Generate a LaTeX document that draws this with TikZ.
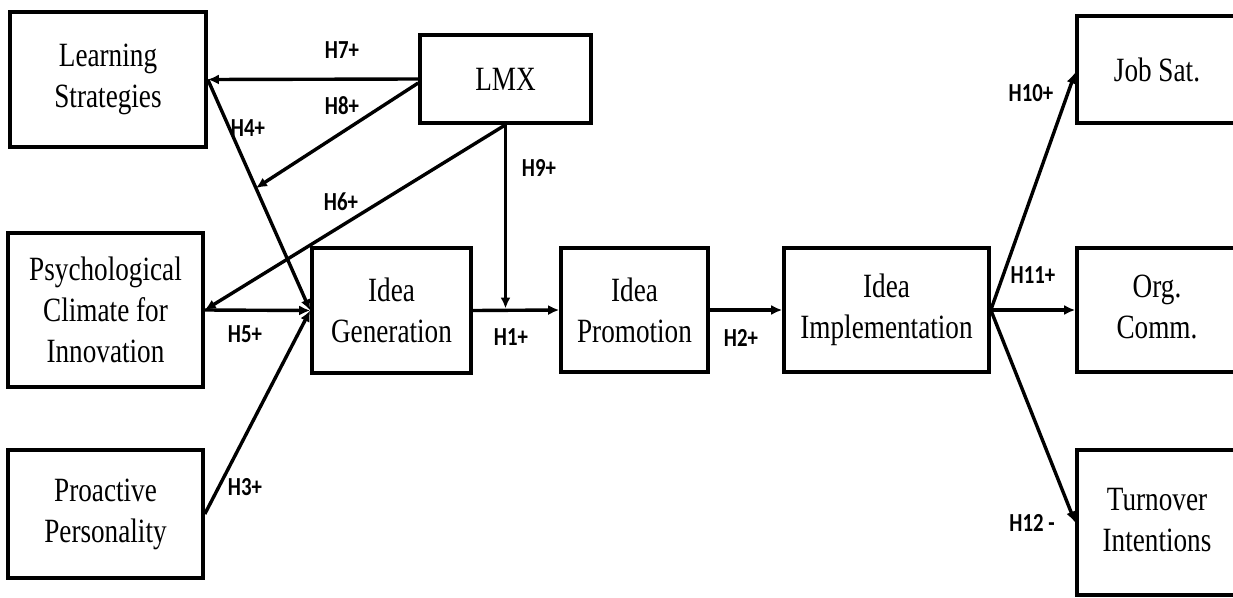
\documentclass[tikz,border=0pt]{standalone}
\usepackage{fontspec}
\setmainfont{Liberation Serif}[FakeStretch=0.8]
\newfontfamily\lblfont{Carlito}[FakeStretch=0.8]
\usetikzlibrary{arrows.meta,calc}

\tikzset{
  construct/.style={draw, line width=3.6pt, align=center, inner sep=0pt,
    font=\fontsize{34}{41}\selectfont},
  link/.style={line width=3.4pt, -{Latex[length=11pt,width=10pt]}},
  hyp/.style={inner sep=0pt, font=\lblfont\bfseries\fontsize{26}{30}\selectfont}
}

\begin{document}
\begin{tikzpicture}[x=1pt,y=-1pt]
\useasboundingbox (0,0) rectangle (1233,597);
\clip (0,0) rectangle (1233,597);

% constructs
\node[construct, minimum width=196pt, minimum height=135pt] (learn)  at (108,79.5)   {Learning\\Strategies};
\node[construct, minimum width=171pt, minimum height=88pt]  (lmx)    at (505.5,79)   {LMX};
\node[construct, minimum width=195pt, minimum height=154pt] (psych)  at (105.5,310)  {Psychological\\Climate for\\Innovation};
\node[construct, minimum width=195pt, minimum height=128pt] (proact) at (105.5,514)  {Proactive\\Personality};
\node[construct, minimum width=159pt, minimum height=125pt] (gen)    at (391.5,310.5){Idea\\Generation};
\node[construct, minimum width=147pt, minimum height=124pt] (prom)   at (634.5,310)  {Idea\\Promotion};
\node[construct, minimum width=205pt, minimum height=124pt] (impl)   at (886.5,310)  {Idea\\Implementation};
\node[construct, minimum width=166pt, minimum height=107pt] (job)    at (1160,69.5)  {\hspace*{-6pt}Job Sat.};
\node[construct, minimum width=166pt, minimum height=124pt] (org)    at (1160,310)   {\hspace*{-6pt}\begin{tabular}{@{}c@{}}Org.\\Comm.\end{tabular}};
\node[construct, minimum width=166pt, minimum height=145pt] (turn)   at (1160,522.5) {\hspace*{-6pt}\begin{tabular}{@{}c@{}}Turnover\\Intentions\end{tabular}};

% helper points
\coordinate (h8end) at ($(learn.east)!0.47!(gen.west)$);
\coordinate (h9end) at ([yshift=2pt]lmx.south |- gen.east);

% paths
\draw[link] (lmx.west) -- (learn.east);
\draw[link] ([yshift=-4pt]lmx.west) -- (h8end);
\draw[link] (learn.east) -- (gen.west);
\draw[link] (lmx.south) -- (psych.east);
\draw[link] (lmx.south) -- (h9end);
\draw[link] (psych.east) -- (gen.west);
\draw[link] (proact.east) -- (gen.west);
\draw[link] (gen.east) -- (prom.west);
\draw[link] (prom.east) -- (impl.west);
\draw[link] (impl.east) -- ([yshift=-3pt]job.west);
\draw[link] (impl.east) -- (org.west);
\draw[link] (impl.east) -- (turn.west);

% hypothesis labels
\node[hyp] (l7)  at (342,50)   {H7+};
\node[hyp] (l8)  at (342,106)  {H8+};
\node[hyp] (l4)  at (248,128)  {H4+};
\node[hyp] (l6)  at (341,202)  {H6+};
\node[hyp] (l9)  at (539,168)  {H9+};
\node[hyp] (l5)  at (245,334)  {H5+};
\node[hyp] (l3)  at (245,487)  {H3+};
\node[hyp] (l1)  at (511,337)  {H1+};
\node[hyp] (l2)  at (741,338)  {H2+};
\node[hyp] (l10) at (1031,93)  {H10+};
\node[hyp] (l11) at (1033,275) {H11+};
\node[hyp] (l12) at (1032,523) {H12 -};
\end{tikzpicture}
\end{document}
